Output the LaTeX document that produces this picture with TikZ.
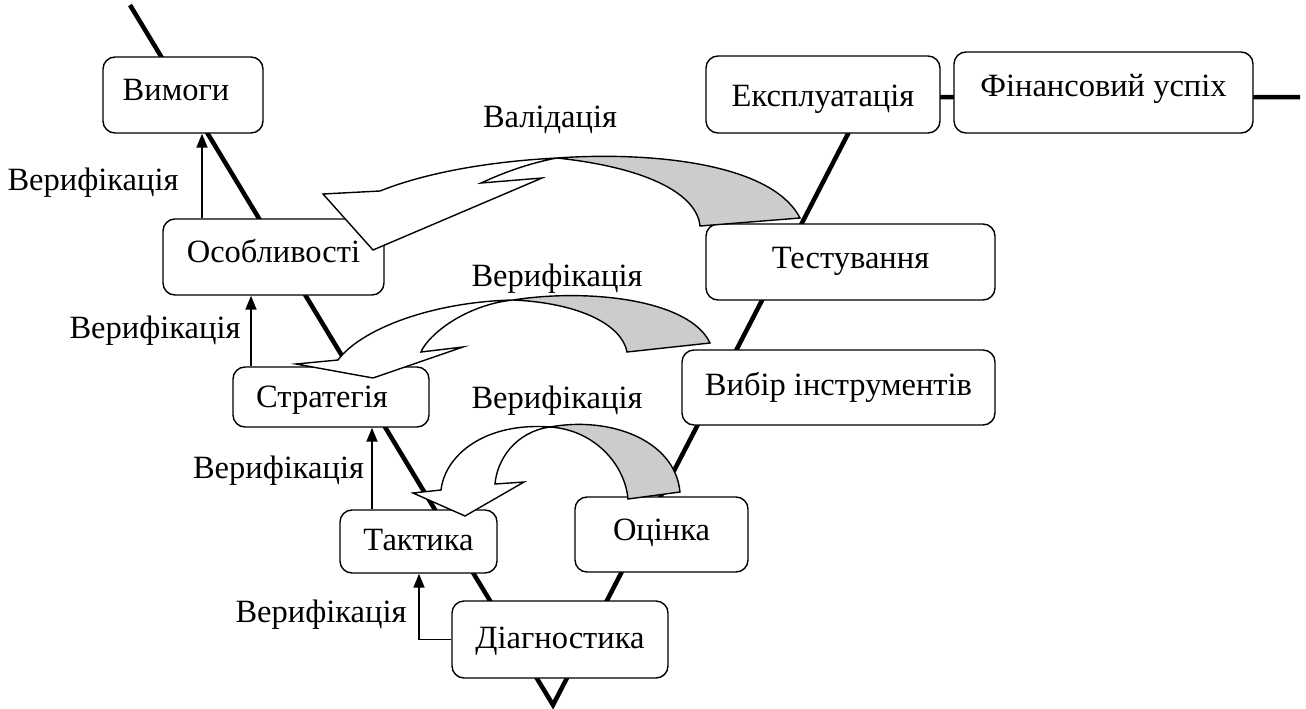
\documentclass[tikz,border=0pt]{standalone}
\usepackage{fontspec}
\setmainfont{Liberation Serif}
\newfontfamily\timesface{Liberation Serif}
\usetikzlibrary{arrows.meta}
\begin{document}
\begin{tikzpicture}[x=1pt,y=-1pt,
  txt/.style={font=\timesface\fontsize{32.5}{38}\selectfont},
  box/.style={txt, draw, line width=1.4pt, rounded corners=12pt, fill=white, inner sep=0pt},
  lbl/.style={txt, inner sep=0pt, anchor=base},
  vline/.style={line width=4.5pt, line join=miter},
  up/.style={line width=1.8pt, -{Triangle[length=14pt,width=11pt]}},
  face/.style={draw, line width=1.4pt, fill=white, line join=miter},
  back/.style={draw, line width=1.4pt, fill=black!20, line join=miter}]
\useasboundingbox (0,0) rectangle (1306,709);

% the V of the life cycle
\coordinate (vtop) at (130,5);
\coordinate (vbot) at (553,705);
\coordinate (vcorner) at (867,97);
\coordinate (vend) at (1300,97);
\draw[vline] (vtop) -- (vbot) -- (vcorner) -- (vend);

% stages
\node[box, minimum width=160, text height=43, text depth=33] (vymohy) at (183,95) {Вимоги\kern14pt};
\node[box, minimum width=234, text height=50, text depth=27] (ekspl) at (823,94.5) {Експлуатація};
\node[box, minimum width=299, text height=44, text depth=37] (fin) at (1103.5,92.5) {Фінансовий успіх};
\node[box, minimum width=221, text height=43, text depth=33] (osob) at (273.5,257) {Особливості};
\node[box, minimum width=289, text height=44, text depth=32] (test) at (850.5,262) {Тестування};
\node[box, minimum width=196, text height=40, text depth=20] (strat) at (331,397) {Стратегія\kern18pt};
\node[box, minimum width=313, text height=45, text depth=30] (vybir) at (838.5,387.5) {Вибір інструментів};
\node[box, minimum width=157, text height=40, text depth=23] (takt) at (418.5,541.5) {Тактика};
\node[box, minimum width=173, text height=43, text depth=32] (otsin) at (661.5,534.5) {Оцінка};
\node[box, minimum width=216, text height=47, text depth=30] (diag) at (560,639.5) {Діагностика};

% verification arrows on the left branch
\coordinate (c1) at (202,0);
\coordinate (c2) at (251,0);
\coordinate (c3) at (372,0);
\coordinate (c4) at (419,0);
\draw[up] (osob.north -| c1) -- (vymohy.south -| c1);
\draw[up] (strat.north -| c2) -- (osob.south -| c2);
\draw[up] (takt.north -| c3) -- (strat.south -| c3);
\draw[up] (diag.west) -| (takt.south -| c4);

% curved block arrows: validation
\path[back] (557,158) .. controls (640,152) and (770,160) .. (800,218) -- (700,226)
  .. controls (697,195) and (650,168) .. (557,158) -- cycle;
\path[face] (380,191) -- (323,194) -- (373,250) -- (542,178) -- (481,183)
  .. controls (505,172) and (530,163) .. (557,158)
  .. controls (480,162) and (420,175) .. (380,191) -- cycle;

% curved block arrows: upper verification
\path[back] (513,300) .. controls (590,288) and (690,300) .. (710,343) -- (627,352)
  .. controls (622,325) and (580,303) .. (513,300) -- cycle;
\path[face] (338,360) -- (296,364) -- (373,378) -- (463,347) -- (421,352)
  .. controls (428,335) and (465,305) .. (513,300)
  .. controls (430,302) and (360,330) .. (338,360) -- cycle;

% curved block arrows: lower verification
\path[back] (550,427) .. controls (610,416) and (675,440) .. (680,492) -- (628,499)
  .. controls (625,465) and (595,430) .. (550,427) -- cycle;
\path[face] (441,490) -- (413,493) -- (465,516) -- (524,482) -- (495,484)
  .. controls (497,460) and (515,432) .. (550,427)
  .. controls (485,422) and (445,455) .. (441,490) -- cycle;

% labels
\node[lbl] (lval) at (550,127) {Валідація};
\node[lbl] (lv1) at (93,190) {Верифікація};
\node[lbl] (lv2) at (155,338) {Верифікація};
\node[lbl] (lv3) at (278.5,478) {Верифікація};
\node[lbl] (lv4) at (321,622) {Верифікація};
\node[lbl] (lm1) at (557,286) {Верифікація};
\node[lbl] (lm2) at (557,408) {Верифікація};
\end{tikzpicture}
\end{document}
